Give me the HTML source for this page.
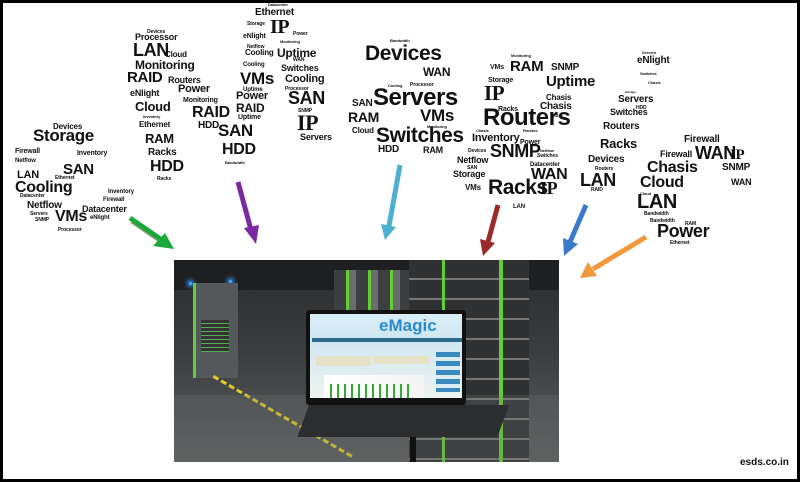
<!DOCTYPE html>
<html><head><meta charset="utf-8"><style>
html,body{margin:0;padding:0}
body{width:800px;height:482px;position:relative;overflow:hidden;background:#fff;font-family:"Liberation Sans",sans-serif}
.f{position:absolute;left:0;top:0;width:794px;height:476px;border:3px solid #000}
.w{position:absolute;font-weight:bold;color:#111;line-height:1;white-space:nowrap;letter-spacing:-0.02em}
.photo{position:absolute;left:174px;top:260px;width:385px;height:202px;background:linear-gradient(180deg,#2a2c2e 0%,#3a3c3e 45%,#4a4c4e 70%,#5a5c5c 100%);overflow:hidden}
</style></head><body>
<div class="f"></div>

<!-- cloud 1 -->
<div class="w" style="left:53px;top:123px;font-size:8px">Devices</div>
<div class="w" style="left:33px;top:127px;font-size:17px">Storage</div>
<div class="w" style="left:15px;top:148px;font-size:7px">Firewall</div>
<div class="w" style="left:77px;top:150px;font-size:7px">Inventory</div>
<div class="w" style="left:15px;top:158px;font-size:6px">Netflow</div>
<div class="w" style="left:63px;top:162px;font-size:15px">SAN</div>
<div class="w" style="left:17px;top:170px;font-size:11px">LAN</div>
<div class="w" style="left:55px;top:176px;font-size:5px">Ethernet</div>
<div class="w" style="left:15px;top:180px;font-size:16px">Cooling</div>
<div class="w" style="left:108px;top:189px;font-size:6px">Inventory</div>
<div class="w" style="left:20px;top:194px;font-size:5px">Datacenter</div>
<div class="w" style="left:103px;top:197px;font-size:6px">Firewall</div>
<div class="w" style="left:27px;top:201px;font-size:10px">Netflow</div>
<div class="w" style="left:82px;top:205px;font-size:9px">Datacenter</div>
<div class="w" style="left:30px;top:212px;font-size:5px">Servers</div>
<div class="w" style="left:90px;top:215px;font-size:6px">eNlight</div>
<div class="w" style="left:35px;top:218px;font-size:5px">SNMP</div>
<div class="w" style="left:55px;top:209px;font-size:16px">VMs</div>
<div class="w" style="left:58px;top:228px;font-size:5px">Processor</div>

<!-- cloud 2 -->
<div class="w" style="left:147px;top:30px;font-size:5px">Devices</div>
<div class="w" style="left:135px;top:33px;font-size:9px">Processor</div>
<div class="w" style="left:133px;top:41px;font-size:18px">LAN</div>
<div class="w" style="left:165px;top:51px;font-size:8px">Cloud</div>
<div class="w" style="left:135px;top:59px;font-size:12px">Monitoring</div>
<div class="w" style="left:127px;top:70px;font-size:15px">RAID</div>
<div class="w" style="left:168px;top:76px;font-size:9px">Routers</div>
<div class="w" style="left:178px;top:84px;font-size:11px">Power</div>
<div class="w" style="left:130px;top:89px;font-size:9px">eNlight</div>
<div class="w" style="left:183px;top:97px;font-size:7px">Monitoring</div>
<div class="w" style="left:135px;top:100px;font-size:13px">Cloud</div>
<div class="w" style="left:192px;top:105px;font-size:16px">RAID</div>
<div class="w" style="left:143px;top:115px;font-size:4px">Inventory</div>
<div class="w" style="left:139px;top:121px;font-size:8px">Ethernet</div>
<div class="w" style="left:198px;top:121px;font-size:10px">HDD</div>
<div class="w" style="left:218px;top:122px;font-size:17px">SAN</div>
<div class="w" style="left:145px;top:132px;font-size:13px">RAM</div>
<div class="w" style="left:222px;top:142px;font-size:16px">HDD</div>
<div class="w" style="left:148px;top:148px;font-size:10px">Racks</div>
<div class="w" style="left:225px;top:161px;font-size:4px">Bandwidth</div>
<div class="w" style="left:150px;top:159px;font-size:16px">HDD</div>
<div class="w" style="left:157px;top:177px;font-size:5px">Racks</div>

<!-- cloud 3 -->
<div class="w" style="left:268px;top:3px;font-size:4px">Datacenter</div>
<div class="w" style="left:255px;top:8px;font-size:10px">Ethernet</div>
<div class="w" style="left:247px;top:22px;font-size:5px">Storage</div>
<div class="w" style="left:270px;top:17px;font-size:20px;font-family:'Liberation Serif',serif">IP</div>
<div class="w" style="left:293px;top:32px;font-size:5px">Power</div>
<div class="w" style="left:243px;top:33px;font-size:7px">eNlight</div>
<div class="w" style="left:280px;top:40px;font-size:4px">Monitoring</div>
<div class="w" style="left:247px;top:45px;font-size:5px">Netflow</div>
<div class="w" style="left:245px;top:49px;font-size:8px">Cooling</div>
<div class="w" style="left:277px;top:47px;font-size:12px">Uptime</div>
<div class="w" style="left:293px;top:58px;font-size:5px">WAN</div>
<div class="w" style="left:243px;top:62px;font-size:6px">Cooling</div>
<div class="w" style="left:281px;top:64px;font-size:9px">Switches</div>
<div class="w" style="left:240px;top:70px;font-size:17px">VMs</div>
<div class="w" style="left:285px;top:74px;font-size:11px">Cooling</div>
<div class="w" style="left:243px;top:87px;font-size:6px">Uptime</div>
<div class="w" style="left:285px;top:87px;font-size:5px">Processor</div>
<div class="w" style="left:236px;top:91px;font-size:11px">Power</div>
<div class="w" style="left:288px;top:89px;font-size:18px">SAN</div>
<div class="w" style="left:236px;top:102px;font-size:12px">RAID</div>
<div class="w" style="left:298px;top:109px;font-size:5px">SNMP</div>
<div class="w" style="left:238px;top:114px;font-size:7px">Uptime</div>
<div class="w" style="left:297px;top:112px;font-size:22px;font-family:'Liberation Serif',serif">IP</div>
<div class="w" style="left:300px;top:133px;font-size:9px">Servers</div>

<!-- cloud 4 -->
<div class="w" style="left:390px;top:39px;font-size:4px">Bandwidth</div>
<div class="w" style="left:365px;top:43px;font-size:21px">Devices</div>
<div class="w" style="left:423px;top:66px;font-size:12px">WAN</div>
<div class="w" style="left:388px;top:84px;font-size:4px">Cooling</div>
<div class="w" style="left:410px;top:83px;font-size:5px">Processor</div>
<div class="w" style="left:352px;top:99px;font-size:10px">SAN</div>
<div class="w" style="left:373px;top:86px;font-size:24px">Servers</div>
<div class="w" style="left:348px;top:110px;font-size:14px">RAM</div>
<div class="w" style="left:420px;top:107px;font-size:17px">VMs</div>
<div class="w" style="left:427px;top:125px;font-size:4px">Monitoring</div>
<div class="w" style="left:352px;top:127px;font-size:8px">Cloud</div>
<div class="w" style="left:376px;top:125px;font-size:21px">Switches</div>
<div class="w" style="left:378px;top:145px;font-size:10px">HDD</div>
<div class="w" style="left:423px;top:146px;font-size:9px">RAM</div>

<!-- cloud 5 -->
<div class="w" style="left:511px;top:54px;font-size:4px">Monitoring</div>
<div class="w" style="left:490px;top:64px;font-size:7px">VMs</div>
<div class="w" style="left:510px;top:59px;font-size:15px">RAM</div>
<div class="w" style="left:551px;top:63px;font-size:10px">SNMP</div>
<div class="w" style="left:488px;top:77px;font-size:7px">Storage</div>
<div class="w" style="left:546px;top:74px;font-size:15px">Uptime</div>
<div class="w" style="left:484px;top:83px;font-size:21px;font-family:'Liberation Serif',serif">IP</div>
<div class="w" style="left:546px;top:94px;font-size:8px">Chasis</div>
<div class="w" style="left:498px;top:106px;font-size:7px">Racks</div>
<div class="w" style="left:540px;top:102px;font-size:10px">Chasis</div>
<div class="w" style="left:483px;top:106px;font-size:24px">Routers</div>
<div class="w" style="left:553px;top:114px;font-size:4px">RAID</div>
<div class="w" style="left:476px;top:129px;font-size:4px">Chasis</div>
<div class="w" style="left:523px;top:129px;font-size:4px">Routers</div>
<div class="w" style="left:472px;top:133px;font-size:11px">Inventory</div>
<div class="w" style="left:520px;top:139px;font-size:7px">Power</div>
<div class="w" style="left:468px;top:149px;font-size:5px">Devices</div>
<div class="w" style="left:490px;top:142px;font-size:18px">SNMP</div>
<div class="w" style="left:540px;top:149px;font-size:4px">Netflow</div>
<div class="w" style="left:537px;top:154px;font-size:5px">Switches</div>
<div class="w" style="left:457px;top:156px;font-size:9px">Netflow</div>
<div class="w" style="left:467px;top:166px;font-size:5px">SAN</div>
<div class="w" style="left:530px;top:162px;font-size:6px">Datacenter</div>
<div class="w" style="left:453px;top:170px;font-size:9px">Storage</div>
<div class="w" style="left:531px;top:167px;font-size:16px">WAN</div>
<div class="w" style="left:465px;top:184px;font-size:8px">VMs</div>
<div class="w" style="left:488px;top:177px;font-size:21px">Racks</div>
<div class="w" style="left:540px;top:179px;font-size:18px;font-family:'Liberation Serif',serif">IP</div>
<div class="w" style="left:513px;top:204px;font-size:6px">LAN</div>

<!-- cloud 6 -->
<div class="w" style="left:642px;top:51px;font-size:4px">Servers</div>
<div class="w" style="left:637px;top:56px;font-size:10px">eNlight</div>
<div class="w" style="left:640px;top:72px;font-size:4px">Switches</div>
<div class="w" style="left:648px;top:81px;font-size:4px">Chasis</div>
<div class="w" style="left:625px;top:91px;font-size:3px">Storage</div>
<div class="w" style="left:618px;top:95px;font-size:10px">Servers</div>
<div class="w" style="left:636px;top:106px;font-size:5px">HDD</div>
<div class="w" style="left:610px;top:108px;font-size:9px">Switches</div>
<div class="w" style="left:603px;top:122px;font-size:10px">Routers</div>
<div class="w" style="left:600px;top:137px;font-size:13px">Racks</div>
<div class="w" style="left:588px;top:155px;font-size:10px">Devices</div>
<div class="w" style="left:595px;top:167px;font-size:5px">Routers</div>
<div class="w" style="left:580px;top:171px;font-size:18px">LAN</div>
<div class="w" style="left:591px;top:188px;font-size:5px">RAID</div>

<!-- cloud 7 -->
<div class="w" style="left:684px;top:135px;font-size:10px">Firewall</div>
<div class="w" style="left:660px;top:150px;font-size:9px">Firewall</div>
<div class="w" style="left:695px;top:144px;font-size:18px">WAN</div>
<div class="w" style="left:730px;top:148px;font-size:15px;font-family:'Liberation Serif',serif">IP</div>
<div class="w" style="left:647px;top:160px;font-size:16px">Chasis</div>
<div class="w" style="left:722px;top:163px;font-size:10px">SNMP</div>
<div class="w" style="left:640px;top:175px;font-size:16px">Cloud</div>
<div class="w" style="left:731px;top:178px;font-size:9px">WAN</div>
<div class="w" style="left:640px;top:192px;font-size:4px">Cloud</div>
<div class="w" style="left:637px;top:192px;font-size:20px">LAN</div>
<div class="w" style="left:644px;top:212px;font-size:5px">Bandwidth</div>
<div class="w" style="left:650px;top:219px;font-size:5px">Bandwidth</div>
<div class="w" style="left:685px;top:222px;font-size:5px">RAM</div>
<div class="w" style="left:657px;top:222px;font-size:18px">Power</div>
<div class="w" style="left:670px;top:241px;font-size:5px">Ethernet</div>

<!-- arrows -->
<svg style="position:absolute;left:0;top:0" width="800" height="482">
<g stroke-width="5" stroke-linecap="butt">
<line x1="132" y1="221" x2="164" y2="243" stroke="#8a9a70"/>
<line x1="130" y1="218" x2="162" y2="240" stroke="#1aa83a"/>
<polygon points="174,249 153,246 165,233" fill="#1aa83a"/>
<line x1="238" y1="182" x2="251" y2="230" stroke="#7a2aa0"/>
<polygon points="256,244 244,228 259,225" fill="#7a2aa0"/>
<line x1="400" y1="165" x2="389" y2="226" stroke="#4cb0d0"/>
<polygon points="385,240 381,224 396,227" fill="#4cb0d0"/>
<line x1="498" y1="205" x2="488" y2="242" stroke="#9a2a2a"/>
<polygon points="483,256 480,239 495,243" fill="#9a2a2a"/>
<line x1="586" y1="205" x2="570" y2="242" stroke="#3a7ac8"/>
<polygon points="564,256 563,238 578,244" fill="#3a7ac8"/>
<line x1="646" y1="237" x2="593" y2="269" stroke="#f0983a"/>
<polygon points="580,278 588,262 597,276" fill="#f0983a"/>
</g>
</svg>

<!-- photo -->
<div class="photo">
  <div style="position:absolute;left:0;top:0;width:385px;height:30px;background:#1e1f20"></div>
  <div style="position:absolute;left:15px;top:22px;width:3px;height:3px;background:#4af;border-radius:50%;box-shadow:0 0 4px 2px #39f"></div>
  <div style="position:absolute;left:55px;top:20px;width:3px;height:3px;background:#4af;border-radius:50%;box-shadow:0 0 4px 2px #39f"></div>
  <div style="position:absolute;left:19px;top:23px;width:42px;height:95px;background:#55585a;border-left:3px solid #6c3"></div>
  <div style="position:absolute;left:27px;top:60px;width:28px;height:32px;background:repeating-linear-gradient(#333 0 3px,#5a5 3px 4px)"></div>
  <div style="position:absolute;left:160px;top:10px;width:75px;height:160px;background:repeating-linear-gradient(90deg,#3c3e40 0 12px,#6c3 12px 15px,#6a6c6e 15px 22px)"></div>
  <div style="position:absolute;left:235px;top:0;width:120px;height:202px;background:repeating-linear-gradient(#2f3133 0 18px,#777 18px 20px)"></div>
  <div style="position:absolute;left:268px;top:0;width:3px;height:202px;background:#6c3"></div>
  <div style="position:absolute;left:325px;top:0;width:4px;height:202px;background:#6c3"></div>
  <div style="position:absolute;left:40px;top:115px;width:160px;height:12px;border-top:3px dashed #dc2;transform:rotate(30deg);transform-origin:0 0"></div>
  <div style="position:absolute;left:0;top:135px;width:385px;height:67px;background:rgba(110,115,115,.25)"></div>
  <div style="position:absolute;left:132px;top:50px;width:160px;height:95px;background:#111;border-radius:3px"></div>
  <div style="position:absolute;left:136px;top:54px;width:152px;height:84px;background:linear-gradient(#dbeef6,#cfe6f0 30%,#eef4f0)"></div>
  <div style="position:absolute;left:205px;top:56px;font:bold 17px 'Liberation Sans',sans-serif;color:#2a8ad0">e<span>Magic</span></div>
  <div style="position:absolute;left:138px;top:78px;width:150px;height:4px;background:#2a6a8a"></div>
  <div style="position:absolute;left:142px;top:96px;width:55px;height:10px;background:#e6e2c8"></div>
  <div style="position:absolute;left:200px;top:96px;width:55px;height:8px;background:#e6e2c8"></div>
  <div style="position:absolute;left:262px;top:92px;width:24px;height:40px;background:repeating-linear-gradient(#3a8ac0 0 5px,#dbeef6 5px 9px)"></div>
  <div style="position:absolute;left:150px;top:115px;width:100px;height:23px;background:linear-gradient(90deg,#fff,#f4f4f4)"></div>
  <div style="position:absolute;left:156px;top:124px;width:80px;height:14px;background:repeating-linear-gradient(90deg,#3a3 0 2px,transparent 2px 7px)"></div>
  <div style="position:absolute;left:135px;top:145px;width:200px;height:32px;background:#2c2d2e;transform:skewX(-20deg);transform-origin:0 0"></div>
  <div style="position:absolute;left:236px;top:177px;width:6px;height:25px;background:#111"></div>
</div>

<div style="position:absolute;left:740px;top:457px;font:bold 10px 'Liberation Sans',sans-serif;color:#111">esds.co.in</div>
</body></html>
